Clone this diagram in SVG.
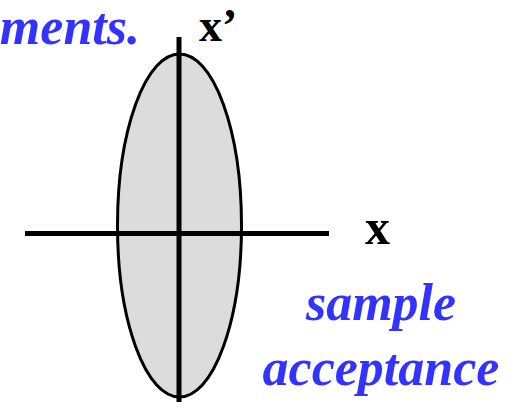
<svg xmlns="http://www.w3.org/2000/svg" width="521" height="409" viewBox="0 0 521 409">
<style>
.blue{font-family:"Liberation Serif",serif;font-weight:bold;font-style:italic;fill:#3333ff;font-size:52px}
.lbl{font-family:"Liberation Serif",serif;font-weight:bold;fill:#000;font-size:50px}
.axis{stroke:#000;stroke-width:5;fill:none}
</style>
<rect width="521" height="409" fill="#fff"/>
<g id="ellipse">
<ellipse cx="179.5" cy="225.5" rx="62" ry="171.5" fill="#dcdcdc" stroke="#000" stroke-width="3"/>
</g>
<g id="connectors">
<line class="axis" x1="179" y1="37" x2="179" y2="402"/>
<line class="axis" x1="25" y1="233.5" x2="329" y2="233.5"/>
</g>
<g id="labels">
<text class="blue" x="140" y="44" text-anchor="end">ments.</text>
<text class="lbl" x="199" y="41" style="font-size:46px">x’</text>
<text class="lbl" x="365" y="244">x</text>
<text class="blue" x="381" y="320" text-anchor="middle">sample</text>
<text class="blue" x="381" y="385" text-anchor="middle">acceptance</text>
</g>
</svg>
